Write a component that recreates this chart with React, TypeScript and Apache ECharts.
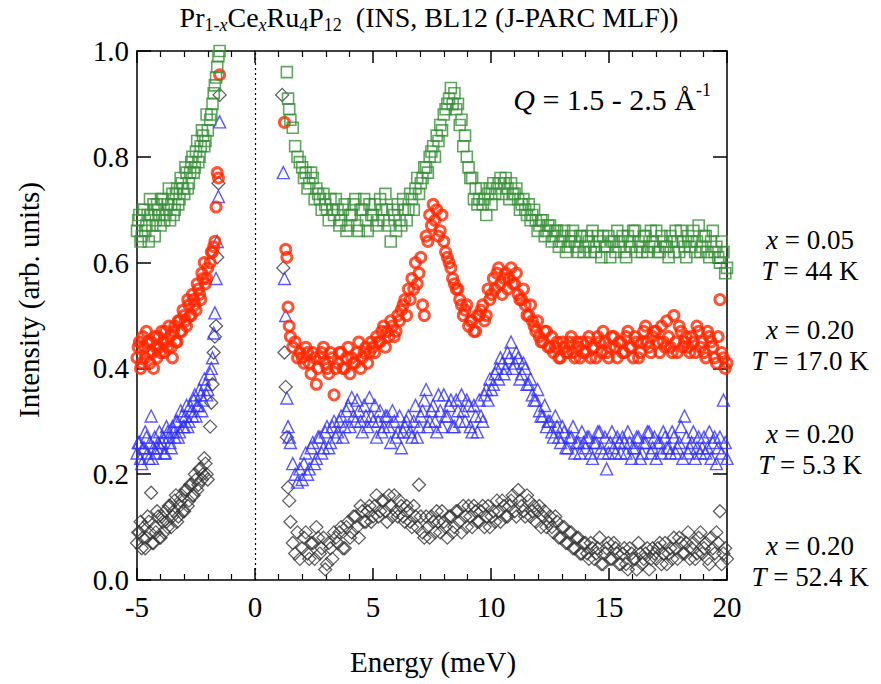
import React, { useEffect, useRef } from 'react';
import * as echarts from 'echarts';

// Energy bins (meV), negative side of the elastic line
const E_NEG = [
  -5.0, -4.9, -4.8, -4.7, -4.6, -4.5, -4.4, -4.3, -4.2, -4.1,
  -4.0, -3.9, -3.8, -3.7, -3.6, -3.5, -3.4, -3.3, -3.2, -3.1,
  -3.0, -2.9, -2.8, -2.7, -2.6, -2.5, -2.4, -2.3, -2.2, -2.1,
  -2.0, -1.9, -1.85, -1.8, -1.75, -1.7, -1.65, -1.6, -1.55, -1.5,
];
const E_NEG_B = [
  -4.95, -4.85, -4.75, -4.65, -4.55, -4.45, -4.35, -4.25, -4.15, -4.05,
  -3.95, -3.85, -3.75, -3.65, -3.55, -3.45, -3.35, -3.25, -3.15, -3.05,
  -2.95, -2.85, -2.75, -2.65, -2.55, -2.45, -2.35, -2.25, -2.15, -2.05,
];
// Energy bins (meV), positive side
const E_POS = [
  1.15, 1.2, 1.25, 1.3, 1.35, 1.4, 1.45, 1.5, 1.6, 1.7, 1.8, 1.9,
  2.0, 2.15, 2.3, 2.45, 2.6, 2.75, 2.9, 3.05, 3.2, 3.35,
  3.5, 3.65, 3.8, 3.95, 4.1, 4.25, 4.4, 4.55, 4.7, 4.85,
  5.0, 5.15, 5.3, 5.45, 5.6, 5.75, 5.9, 6.05, 6.2, 6.35,
  6.5, 6.65, 6.8, 6.95, 7.1, 7.25, 7.4, 7.55, 7.7, 7.85,
  8.0, 8.15, 8.3, 8.45, 8.6, 8.75, 8.9, 9.05, 9.2, 9.35,
  9.5, 9.65, 9.8, 9.95, 10.1, 10.25, 10.4, 10.55, 10.7, 10.85,
  11.0, 11.15, 11.3, 11.45, 11.6, 11.75, 11.9, 12.05, 12.2, 12.35,
  12.5, 12.65, 12.8, 12.95, 13.1, 13.25, 13.4, 13.55, 13.7, 13.85,
  14.0, 14.15, 14.3, 14.45, 14.6, 14.75, 14.9, 15.05, 15.2, 15.35,
  15.5, 15.65, 15.8, 15.95, 16.1, 16.25, 16.4, 16.55, 16.7, 16.85,
  17.0, 17.15, 17.3, 17.45, 17.6, 17.75, 17.9, 18.05, 18.2, 18.35,
  18.5, 18.65, 18.8, 18.95, 19.1, 19.25, 19.4, 19.55, 19.7, 19.85,
  20.0,
];
const E_POS_B = [
  2.075, 2.225, 2.375, 2.525, 2.675, 2.825, 2.975, 3.125, 3.275, 3.425,
  3.575, 3.725, 3.875, 4.025, 4.175, 4.325, 4.475, 4.625, 4.775, 4.925,
  5.075, 5.225, 5.375, 5.525, 5.675, 5.825, 5.975, 6.125, 6.275, 6.425,
  6.575, 6.725, 6.875, 7.025, 7.175, 7.325, 7.475, 7.625, 7.775, 7.925,
  8.075, 8.225, 8.375, 8.525, 8.675, 8.825, 8.975, 9.125, 9.275, 9.425,
  9.575, 9.725, 9.875, 10.025, 10.175, 10.325, 10.475, 10.625, 10.775, 10.925,
  11.075, 11.225, 11.375, 11.525, 11.675, 11.825, 11.975, 12.125, 12.275, 12.425,
  12.575, 12.725, 12.875, 13.025, 13.175, 13.325, 13.475, 13.625, 13.775, 13.925,
  14.075, 14.225, 14.375, 14.525, 14.675, 14.825, 14.975, 15.125, 15.275, 15.425,
  15.575, 15.725, 15.875, 16.025, 16.175, 16.325, 16.475, 16.625, 16.775, 16.925,
  17.075, 17.225, 17.375, 17.525, 17.675, 17.825, 17.975, 18.125, 18.275, 18.425,
  18.575, 18.725, 18.875, 19.025, 19.175, 19.325, 19.475, 19.625, 19.775, 19.925,
];

// x = 0.05, T = 44 K (green squares)
const GREEN_NEG = [
  0.66, 0.69, 0.65, 0.70, 0.67, 0.64, 0.69, 0.71, 0.68, 0.70,
  0.67, 0.72, 0.69, 0.71, 0.68, 0.73, 0.70, 0.74, 0.72, 0.75,
  0.73, 0.77, 0.75, 0.79, 0.77, 0.81, 0.79, 0.82, 0.84, 0.83,
  0.85, 0.87, 0.88, 0.90, 0.92, 0.935, 0.95, 0.97, 0.99, 1.0,
];
const GREEN_NEG_B = [
  0.68, 0.64, 0.70, 0.66, 0.69, 0.72, 0.67, 0.65, 0.71, 0.69,
  0.72, 0.68, 0.70, 0.74, 0.71, 0.69, 0.73, 0.71, 0.76, 0.74,
  0.78, 0.74, 0.77, 0.80, 0.78, 0.83, 0.80, 0.85, 0.82, 0.88,
];
const GREEN_POS = [
  null, null, null, null, 0.96, 0.91, 0.89, 0.87, 0.855, 0.82, 0.80, 0.79,
  0.78, 0.77, 0.75, 0.76, 0.74, 0.72, 0.73, 0.70, 0.72, 0.69,
  0.70, 0.68, 0.71, 0.67, 0.69, 0.72, 0.66, 0.70, 0.68, 0.71,
  0.69, 0.67, 0.72, 0.68, 0.70, 0.64, 0.69, 0.71, 0.67, 0.70,
  0.70, 0.72, 0.74, 0.73, 0.76, 0.78, 0.80, 0.82, 0.84, 0.86,
  0.88, 0.90, 0.93, 0.92, 0.90, 0.87, 0.84, 0.78, 0.76, 0.74,
  0.72, 0.71, 0.69, 0.74, 0.75, 0.74, 0.76, 0.75, 0.74, 0.75,
  0.73, 0.72, 0.71, 0.70, 0.71, 0.69, 0.68, 0.67, 0.68, 0.66,
  0.67, 0.65, 0.66, 0.64, 0.66, 0.63, 0.65, 0.64, 0.62, 0.65,
  0.63, 0.64, 0.66, 0.62, 0.64, 0.65, 0.63, 0.61, 0.64, 0.66,
  0.64, 0.62, 0.65, 0.63, 0.66, 0.64, 0.62, 0.65, 0.63, 0.64,
  0.66, 0.62, 0.64, 0.63, 0.65, 0.62, 0.64, 0.66, 0.63, 0.65,
  0.64, 0.62, 0.67, 0.63, 0.65, 0.61, 0.66, 0.63, 0.60, 0.62,
  0.59,
];
const GREEN_POS_B = [
  0.76, 0.74, 0.77, 0.72, 0.73, 0.70, 0.71, 0.68, 0.70, 0.72,
  0.67, 0.70, 0.66, 0.69, 0.71, 0.67, 0.70, 0.72, 0.66, 0.69,
  0.71, 0.68, 0.70, 0.73, 0.67, 0.70, 0.66, 0.68, 0.72, 0.68,
  0.73, 0.70, 0.76, 0.75, 0.78, 0.77, 0.81, 0.80, 0.83, 0.85,
  0.89, 0.91, 0.90, 0.89, 0.86, 0.82, 0.80, 0.76, 0.72, 0.71,
  0.74, 0.72, 0.73, 0.71, 0.73, 0.75, 0.73, 0.76, 0.72, 0.73,
  0.74, 0.70, 0.72, 0.69, 0.68, 0.70, 0.66, 0.68, 0.65, 0.67,
  0.64, 0.66, 0.63, 0.65, 0.62, 0.64, 0.66, 0.63, 0.65, 0.62,
  0.65, 0.62, 0.63, 0.65, 0.61, 0.63, 0.65, 0.64, 0.62, 0.63,
  0.65, 0.61, 0.64, 0.66, 0.62, 0.63, 0.65, 0.62, 0.66, 0.63,
  0.62, 0.65, 0.63, 0.61, 0.64, 0.66, 0.62, 0.64, 0.61, 0.63,
  0.66, 0.64, 0.62, 0.65, 0.62, 0.64, 0.62, 0.61, 0.64, 0.58,
];

// x = 0.20, T = 17.0 K (red circles)
const RED_NEG = [
  0.42, 0.45, 0.41, 0.44, 0.47, 0.43, 0.45, 0.40, 0.44, 0.46,
  0.43, 0.45, 0.47, 0.44, 0.46, 0.42, 0.48, 0.45, 0.49, 0.47,
  0.50, 0.48, 0.52, 0.50, 0.53, 0.51, 0.55, 0.53, 0.57, 0.56,
  0.59, 0.60, 0.62, 0.62, 0.63, 0.64, 0.705, 0.77, 0.76, 0.955,
];
const RED_NEG_B = [
  0.44, 0.40, 0.46, 0.42, 0.45, 0.41, 0.43, 0.46, 0.42, 0.44,
  0.47, 0.43, 0.45, 0.48, 0.44, 0.47, 0.45, 0.49, 0.47, 0.51,
  0.49, 0.53, 0.50, 0.54, 0.52, 0.56, 0.54, 0.58, 0.60, 0.57,
];
const RED_POS = [
  null, null, 0.865, 0.625, 0.61, 0.516, 0.48, 0.46, 0.44, 0.45, 0.42, 0.43,
  0.42, 0.44, 0.41, 0.43, 0.37, 0.42, 0.44, 0.40, 0.43, 0.35,
  0.41, 0.43, 0.40, 0.44, 0.42, 0.41, 0.45, 0.42, 0.44, 0.43,
  0.44, 0.46, 0.45, 0.48, 0.47, 0.49, 0.46, 0.50, 0.51, 0.53,
  0.55, 0.57, 0.60, 0.58, 0.52, 0.65, 0.69, 0.71, 0.70, 0.66,
  0.64, 0.61, 0.59, 0.56, 0.55, 0.52, 0.51, 0.48, 0.49, 0.47,
  0.50, 0.52, 0.50, 0.53, 0.57, 0.58, 0.56, 0.57, 0.55, 0.59,
  0.56, 0.54, 0.53, 0.52, 0.50, 0.49, 0.47, 0.46, 0.45, 0.47,
  0.44, 0.43, 0.45, 0.42, 0.44, 0.43, 0.46, 0.42, 0.44, 0.45,
  0.43, 0.46, 0.44, 0.42, 0.45, 0.47, 0.43, 0.44, 0.46, 0.42,
  0.45, 0.43, 0.47, 0.44, 0.46, 0.42, 0.45, 0.48, 0.44, 0.46,
  0.47, 0.43, 0.45, 0.49, 0.44, 0.50, 0.43, 0.47, 0.45, 0.44,
  0.46, 0.43, 0.47, 0.45, 0.42, 0.46, 0.44, 0.41, 0.53, 0.42,
  0.41,
];
const RED_POS_B = [
  0.41, 0.43, 0.39, 0.42, 0.40, 0.43, 0.41, 0.39, 0.42, 0.40,
  0.43, 0.40, 0.42, 0.39, 0.41, 0.43, 0.40, 0.43, 0.41, 0.45,
  0.43, 0.45, 0.47, 0.44, 0.46, 0.48, 0.47, 0.49, 0.52, 0.50,
  0.53, 0.55, 0.56, 0.61, 0.50, 0.64, 0.67, 0.68, 0.65, 0.69,
  0.62, 0.60, 0.57, 0.55, 0.53, 0.50, 0.52, 0.49, 0.47, 0.50,
  0.51, 0.49, 0.55, 0.54, 0.55, 0.59, 0.54, 0.58, 0.57, 0.56,
  0.58, 0.53, 0.55, 0.50, 0.52, 0.48, 0.49, 0.45, 0.47, 0.44,
  0.46, 0.44, 0.42, 0.45, 0.43, 0.45, 0.43, 0.45, 0.42, 0.43,
  0.45, 0.42, 0.44, 0.46, 0.43, 0.45, 0.42, 0.46, 0.44, 0.45,
  0.43, 0.46, 0.44, 0.42, 0.45, 0.43, 0.47, 0.45, 0.43, 0.47,
  0.45, 0.48, 0.44, 0.46, 0.43, 0.45, 0.48, 0.44, 0.46, 0.43,
  0.45, 0.48, 0.44, 0.43, 0.47, 0.45, 0.42, 0.46, 0.43, 0.40,
];

// x = 0.20, T = 5.3 K (blue triangles)
const BLUE_NEG = [
  0.24, 0.26, 0.22, 0.25, 0.27, 0.23, 0.31, 0.25, 0.24, 0.26,
  0.25, 0.27, 0.24, 0.28, 0.26, 0.29, 0.27, 0.30, 0.28, 0.31,
  0.29, 0.33, 0.30, 0.32, 0.34, 0.31, 0.33, 0.35, 0.34, 0.37,
  0.36, 0.39, 0.40, 0.42, 0.467, 0.505, 0.57, 0.64, 0.725, 0.866,
];
const BLUE_NEG_B = [
  0.26, 0.23, 0.25, 0.28, 0.24, 0.26, 0.23, 0.27, 0.25, 0.28,
  0.26, 0.24, 0.29, 0.27, 0.25, 0.28, 0.30, 0.27, 0.32, 0.29,
  0.31, 0.29, 0.33, 0.31, 0.35, 0.33, 0.36, 0.32, 0.38, 0.35,
];
const BLUE_POS = [
  null, 0.77, 0.57, 0.50, 0.344, 0.29, 0.27, 0.26, 0.22, 0.20, 0.185, 0.21,
  0.19, 0.24, 0.21, 0.26, 0.23, 0.27, 0.25, 0.29, 0.26, 0.30,
  0.28, 0.31, 0.29, 0.33, 0.345, 0.30, 0.32, 0.28, 0.31, 0.345,
  0.30, 0.27, 0.32, 0.29, 0.31, 0.26, 0.30, 0.28, 0.25, 0.29,
  0.31, 0.27, 0.33, 0.29, 0.32, 0.36, 0.30, 0.33, 0.28, 0.32,
  0.35, 0.31, 0.34, 0.29, 0.32, 0.35, 0.30, 0.33, 0.28, 0.31,
  0.34, 0.30, 0.36, 0.38, 0.37, 0.40, 0.42, 0.39, 0.43, 0.45,
  0.41, 0.42, 0.39, 0.40, 0.37, 0.35, 0.34, 0.32, 0.31, 0.29,
  0.30, 0.27, 0.29, 0.26, 0.28, 0.25, 0.27, 0.24, 0.26, 0.28,
  0.25, 0.27, 0.23, 0.26, 0.28, 0.24, 0.21, 0.26, 0.25, 0.27,
  0.24, 0.26, 0.28, 0.23, 0.25, 0.27, 0.24, 0.26, 0.28, 0.25,
  0.23, 0.26, 0.28, 0.25, 0.24, 0.27, 0.25, 0.29, 0.31, 0.24,
  0.26, 0.23, 0.27, 0.25, 0.24, 0.28, 0.26, 0.22, 0.27, 0.34,
  0.23,
];
const BLUE_POS_B = [
  0.22, 0.20, 0.25, 0.22, 0.27, 0.24, 0.28, 0.25, 0.29, 0.27,
  0.30, 0.27, 0.32, 0.29, 0.31, 0.34, 0.30, 0.33, 0.29, 0.31,
  0.33, 0.30, 0.28, 0.31, 0.29, 0.32, 0.27, 0.31, 0.28, 0.30,
  0.28, 0.30, 0.27, 0.31, 0.34, 0.29, 0.32, 0.30, 0.35, 0.29,
  0.31, 0.33, 0.29, 0.34, 0.30, 0.32, 0.34, 0.29, 0.33, 0.28,
  0.31, 0.35, 0.34, 0.36, 0.39, 0.38, 0.41, 0.40, 0.42, 0.40,
  0.43, 0.38, 0.41, 0.37, 0.38, 0.34, 0.36, 0.31, 0.33, 0.30,
  0.28, 0.31, 0.27, 0.29, 0.25, 0.27, 0.29, 0.26, 0.24, 0.26,
  0.27, 0.24, 0.26, 0.28, 0.25, 0.27, 0.24, 0.28, 0.24, 0.26,
  0.27, 0.24, 0.26, 0.25, 0.27, 0.23, 0.26, 0.28, 0.24, 0.27,
  0.26, 0.24, 0.27, 0.25, 0.28, 0.24, 0.26, 0.23, 0.27, 0.25,
  0.28, 0.25, 0.24, 0.27, 0.25, 0.23, 0.27, 0.25, 0.24, 0.26,
];

// x = 0.20, T = 52.4 K (grey diamonds)
const GREY_NEG = [
  0.07, 0.09, 0.06, 0.10, 0.08, 0.11, 0.165, 0.07, 0.09, 0.12,
  0.08, 0.11, 0.13, 0.10, 0.14, 0.12, 0.15, 0.11, 0.14, 0.16,
  0.13, 0.17, 0.15, 0.18, 0.16, 0.19, 0.18, 0.21, 0.20, 0.22,
  0.19, 0.29, 0.335, 0.37, 0.43, 0.46, 0.48, 0.61, 0.75, 0.917,
];
const GREY_NEG_B = [
  0.09, 0.11, 0.08, 0.06, 0.12, 0.09, 0.07, 0.10, 0.13, 0.08,
  0.12, 0.09, 0.11, 0.14, 0.10, 0.13, 0.16, 0.12, 0.15, 0.13,
  0.17, 0.14, 0.18, 0.16, 0.20, 0.17, 0.21, 0.19, 0.23, 0.20,
];
const GREY_POS = [
  0.917, 0.59, 0.43, 0.365, 0.27, 0.175, 0.15, 0.11, 0.07, 0.05, 0.09, 0.04,
  0.06, 0.09, 0.04, 0.07, 0.10, 0.05, 0.08, 0.03, 0.06, 0.09,
  0.07, 0.10, 0.06, 0.11, 0.09, 0.12, 0.08, 0.13, 0.11, 0.14,
  0.12, 0.16, 0.13, 0.15, 0.11, 0.14, 0.16, 0.12, 0.14, 0.11,
  0.13, 0.10, 0.12, 0.18, 0.09, 0.12, 0.08, 0.11, 0.13, 0.09,
  0.11, 0.08, 0.12, 0.10, 0.13, 0.09, 0.12, 0.14, 0.10, 0.13,
  0.11, 0.14, 0.12, 0.10, 0.13, 0.15, 0.11, 0.14, 0.12, 0.15,
  0.13, 0.17, 0.14, 0.12, 0.15, 0.13, 0.11, 0.14, 0.12, 0.10,
  0.12, 0.09, 0.11, 0.08, 0.10, 0.07, 0.09, 0.06, 0.08, 0.05,
  0.07, 0.04, 0.06, 0.05, 0.08, 0.03, 0.06, 0.04, 0.07, 0.05,
  0.03, 0.06, 0.02, 0.05, 0.04, 0.07, 0.03, 0.05, 0.02, 0.06,
  0.04, 0.07, 0.05, 0.03, 0.06, 0.08, 0.04, 0.07, 0.05, 0.09,
  0.06, 0.04, 0.08, 0.05, 0.07, 0.03, 0.06, 0.09, 0.13, 0.05,
  0.04,
];
const GREY_POS_B = [
  0.08, 0.05, 0.07, 0.04, 0.08, 0.06, 0.02, 0.07, 0.04, 0.08,
  0.09, 0.06, 0.10, 0.08, 0.12, 0.10, 0.14, 0.11, 0.13, 0.11,
  0.14, 0.12, 0.15, 0.13, 0.16, 0.12, 0.13, 0.15, 0.12, 0.14,
  0.11, 0.14, 0.10, 0.12, 0.08, 0.10, 0.12, 0.09, 0.11, 0.13,
  0.10, 0.12, 0.09, 0.13, 0.11, 0.14, 0.10, 0.12, 0.14, 0.11,
  0.13, 0.10, 0.14, 0.12, 0.11, 0.13, 0.15, 0.12, 0.14, 0.16,
  0.12, 0.15, 0.13, 0.16, 0.12, 0.14, 0.13, 0.10, 0.13, 0.11,
  0.10, 0.12, 0.08, 0.10, 0.07, 0.09, 0.06, 0.08, 0.05, 0.07,
  0.05, 0.07, 0.04, 0.06, 0.03, 0.05, 0.07, 0.04, 0.06, 0.03,
  0.05, 0.03, 0.06, 0.04, 0.02, 0.05, 0.04, 0.06, 0.04, 0.05,
  0.06, 0.03, 0.07, 0.05, 0.04, 0.06, 0.08, 0.05, 0.07, 0.04,
  0.07, 0.05, 0.09, 0.06, 0.04, 0.08, 0.05, 0.07, 0.03, 0.06,
];

const X_TICKS = { min: -5, max: 20, interval: 5 };
const Y_TICKS = { min: 0, max: 1, interval: 0.2 };

const FONT = 'Liberation Serif';

function toPairs(E: number[], V: (number | null)[]) {
  const out: number[][] = [];
  for (let i = 0; i < E.length; i++) {
    const v = V[i];
    if (v !== null && v !== undefined) out.push([E[i], v]);
  }
  return out;
}

const SERIES_DEF = [
  { name: 'x = 0.20, T = 52.4 K', sets: [[E_NEG, GREY_NEG], [E_NEG_B, GREY_NEG_B], [E_POS, GREY_POS], [E_POS_B, GREY_POS_B]], symbol: 'diamond', size: 13, color: '#383838', bw: 1.3 },
  { name: 'x = 0.20, T = 5.3 K', sets: [[E_NEG, BLUE_NEG], [E_NEG_B, BLUE_NEG_B], [E_POS, BLUE_POS], [E_POS_B, BLUE_POS_B]], symbol: 'triangle', size: 12, color: '#2f2fff', bw: 1.4 },
  { name: 'x = 0.20, T = 17.0 K', sets: [[E_NEG, RED_NEG], [E_NEG_B, RED_NEG_B], [E_POS, RED_POS], [E_POS_B, RED_POS_B]], symbol: 'circle', size: 10, color: '#ff2800', bw: 3 },
  { name: 'x = 0.05, T = 44 K', sets: [[E_NEG, GREEN_NEG], [E_NEG_B, GREEN_NEG_B], [E_POS, GREEN_POS], [E_POS_B, GREEN_POS_B]], symbol: 'rect', size: 11, color: '#379137', bw: 1.6 },
];

// Right-hand labels: composition x and temperature T, line centres y (px)
const LABELS = [
  { x: '0.05', T: '44 K', y1: 240, y2: 271 },
  { x: '0.20', T: '17.0 K', y1: 330, y2: 361 },
  { x: '0.20', T: '5.3 K', y1: 434, y2: 465 },
  { x: '0.20', T: '52.4 K', y1: 546, y2: 577 },
];

export default function App() {
  const ref = useRef<HTMLDivElement>(null);
  useEffect(() => {
    if (!ref.current) return;
    const chart = echarts.init(ref.current, undefined, { renderer: 'svg' });

    const tok = (size: number, extra: any = {}) => ({
      fontSize: size, fontFamily: FONT, fill: '#000', color: '#000', ...extra,
    });

    const series: any[] = SERIES_DEF.map((s, idx) => ({
      type: 'scatter',
      name: s.name,
      symbol: s.symbol,
      symbolSize: s.size,
      data: s.sets.flatMap(([E, V]) => toPairs(E as number[], V as (number | null)[])),
      itemStyle: { color: 'rgba(255,255,255,0)', borderColor: s.color, borderWidth: s.bw },
      emphasis: { disabled: true },
      silent: true,
      clip: true,
      ...(idx === 0
        ? {
            markLine: {
              silent: true,
              symbol: ['none', 'none'],
              label: { show: false },
              lineStyle: { type: [2, 3], color: '#000', width: 1.2 },
              data: [{ xAxis: 0 }],
            },
          }
        : {}),
    }));

    const xCommon = {
      type: 'value',
      ...X_TICKS,
      splitLine: { show: false },
      axisLine: { show: true, onZero: false, lineStyle: { color: '#000', width: 1.5 } },
      axisTick: { show: true, inside: true, length: 12, lineStyle: { color: '#000', width: 1.5 } },
      minorTick: { show: true, splitNumber: 5, length: 6, lineStyle: { color: '#000', width: 1.2 } },
    };
    const yCommon = {
      type: 'value',
      ...Y_TICKS,
      splitLine: { show: false },
      axisLine: { show: true, onZero: false, lineStyle: { color: '#000', width: 1.5 } },
      axisTick: { show: true, inside: true, length: 14, lineStyle: { color: '#000', width: 1.5 } },
    };

    const plainText = (text: string, x: number, y: number, size: number, extra: any = {}) => ({
      type: 'text',
      x,
      y,
      ...extra,
      style: {
        text,
        align: 'center',
        verticalAlign: 'middle',
        fill: '#000',
        fontSize: size,
        fontFamily: FONT,
      },
    });

    const graphic: any[] = [
      {
        type: 'text',
        x: 429,
        y: 17,
        style: {
          text: '{n|Pr}{s|1-}{si|x}{n|Ce}{si|x}{n|Ru}{s|4}{n|P}{s|12}{n|  (INS, BL12 (J-PARC MLF))}',
          align: 'center',
          verticalAlign: 'middle',
          fill: '#000',
          fontSize: 28,
          fontFamily: FONT,
          rich: {
            n: tok(28, { lineHeight: 34, verticalAlign: 'middle' }),
            s: tok(18, { lineHeight: 14, verticalAlign: 'bottom' }),
            si: tok(18, { lineHeight: 14, verticalAlign: 'bottom', fontStyle: 'italic' }),
          },
        },
      },
      {
        type: 'text',
        x: 711,
        y: 99,
        style: {
          text: '{q|Q}{n| = 1.5 - 2.5 Å}{sup|-1}',
          align: 'right',
          verticalAlign: 'middle',
          fill: '#000',
          fontSize: 30,
          fontFamily: FONT,
          rich: {
            q: tok(30, { lineHeight: 36, verticalAlign: 'middle', fontStyle: 'italic' }),
            n: tok(30, { lineHeight: 36, verticalAlign: 'middle' }),
            sup: tok(18, { lineHeight: 14, verticalAlign: 'top' }),
          },
        },
      },
      plainText('Intensity (arb. units)', 29, 300, 29, { rotation: Math.PI / 2 }),
      plainText('Energy (meV)', 433, 662, 29),
    ];
    const labelLine = (text: string, y: number) => ({
      type: 'text',
      x: 810,
      y,
      style: {
        text,
        align: 'center',
        verticalAlign: 'middle',
        fill: '#000',
        fontSize: 27,
        fontFamily: FONT,
        rich: { i: tok(27, { fontStyle: 'italic' }), n: tok(27) },
      },
    });
    LABELS.forEach((l) => {
      graphic.push(labelLine(`{i|x}{n| = ${l.x}}`, l.y1));
      graphic.push(labelLine(`{i|T}{n| = ${l.T}}`, l.y2));
    });

    const labelRich = { a: { fontSize: 29, fontFamily: FONT, color: '#000' } };

    chart.setOption({
      animation: false,
      backgroundColor: '#fff',
      textStyle: { fontFamily: FONT },
      grid: { left: 137, right: 154, top: 51, bottom: 104, containLabel: false },
      xAxis: [
        {
          ...xCommon,
          position: 'bottom',
          axisLabel: {
            show: true,
            margin: 12,
            fontSize: 29,
            fontFamily: FONT,
            color: '#000',
            formatter: (v: number) => `{a|${v}}`,
            rich: labelRich,
          },
        },
        { ...xCommon, position: 'top', axisLabel: { show: false } },
      ],
      yAxis: [
        {
          ...yCommon,
          position: 'left',
          axisLabel: {
            show: true,
            margin: 8,
            fontSize: 29,
            fontFamily: FONT,
            color: '#000',
            formatter: (v: number) => `{a|${v.toFixed(1)}}`,
            rich: labelRich,
          },
        },
        { ...yCommon, position: 'right', axisLabel: { show: false } },
      ],
      series,
      graphic,
    });
    return () => chart.dispose();
  }, []);
  return (
    <div
      ref={ref}
      style={{ position: 'fixed', left: 0, top: 0, width: 881, height: 684, background: '#fff' }}
    />
  );
}
